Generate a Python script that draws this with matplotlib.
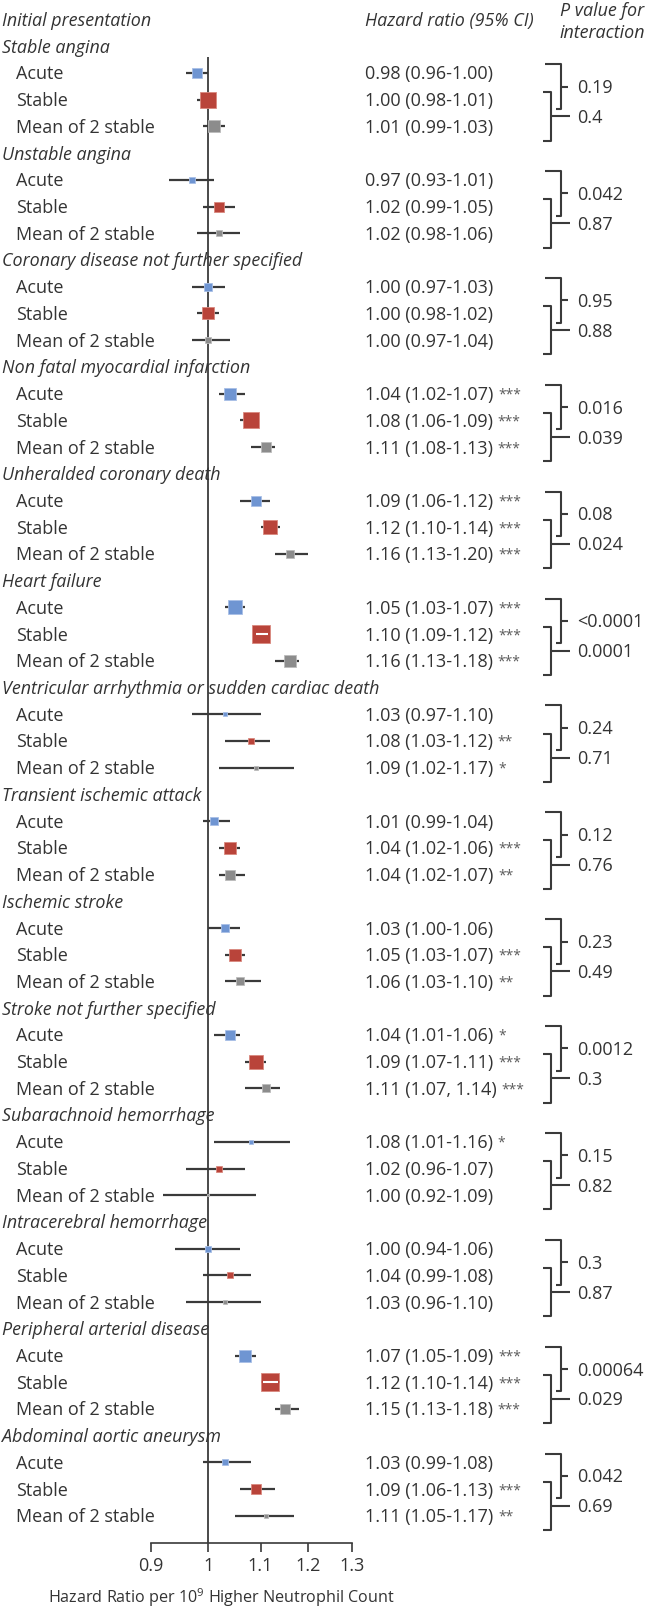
import numpy as np
import matplotlib
matplotlib.use('Agg')
import matplotlib.pyplot as plt
from matplotlib import transforms
from matplotlib.ticker import FixedLocator, FixedFormatter, NullLocator

plt.rcParams['font.family'] = ['Open Sans', 'DejaVu Sans']
plt.rcParams['mathtext.fontset'] = 'custom'
plt.rcParams['mathtext.rm'] = 'Open Sans'
plt.rcParams['mathtext.it'] = 'Open Sans:italic'

# ---------------- data ----------------
outcomes = ['Stable angina', 'Unstable angina', 'Coronary disease not further specified',
            'Non fatal myocardial infarction', 'Unheralded coronary death', 'Heart failure',
            'Ventricular arrhythmia or sudden cardiac death', 'Transient ischemic attack',
            'Ischemic stroke', 'Stroke not further specified', 'Subarachnoid hemorrhage',
            'Intracerebral hemorrhage', 'Peripheral arterial disease', 'Abdominal aortic aneurysm']
subgroups = ['Acute', 'Stable', 'Mean of 2 stable']

hr = [[0.98, 1.00, 1.01], [0.97, 1.02, 1.02], [1.00, 1.00, 1.00], [1.04, 1.08, 1.11],
      [1.09, 1.12, 1.16], [1.05, 1.10, 1.16], [1.03, 1.08, 1.09], [1.01, 1.04, 1.04],
      [1.03, 1.05, 1.06], [1.04, 1.09, 1.11], [1.08, 1.02, 1.00], [1.00, 1.04, 1.03],
      [1.07, 1.12, 1.15], [1.03, 1.09, 1.11]]
ci_low = [[0.96, 0.98, 0.99], [0.93, 0.99, 0.98], [0.97, 0.98, 0.97], [1.02, 1.06, 1.08],
          [1.06, 1.10, 1.13], [1.03, 1.09, 1.13], [0.97, 1.03, 1.02], [0.99, 1.02, 1.02],
          [1.00, 1.03, 1.03], [1.01, 1.07, 1.07], [1.01, 0.96, 0.92], [0.94, 0.99, 0.96],
          [1.05, 1.10, 1.13], [0.99, 1.06, 1.05]]
ci_high = [[1.00, 1.01, 1.03], [1.01, 1.05, 1.06], [1.03, 1.02, 1.04], [1.07, 1.09, 1.13],
           [1.12, 1.14, 1.20], [1.07, 1.12, 1.18], [1.10, 1.12, 1.17], [1.04, 1.06, 1.07],
           [1.06, 1.07, 1.10], [1.06, 1.11, 1.14], [1.16, 1.07, 1.09], [1.06, 1.08, 1.10],
           [1.09, 1.14, 1.18], [1.08, 1.13, 1.17]]
ci_sep = [['-', '-', '-']] * 9 + [['-', '-', ', ']] + [['-', '-', '-']] * 4
stars = [['', '', ''], ['', '', ''], ['', '', ''], ['***', '***', '***'],
         ['***', '***', '***'], ['***', '***', '***'], ['', '**', '*'], ['', '***', '**'],
         ['', '***', '**'], ['*', '***', '***'], ['*', '', ''], ['', '', ''],
         ['***', '***', '***'], ['', '***', '**']]
# relative weight of each estimate (drives box size)
weights = [[11.3, 17.3, 12.3], [6.7, 10.3, 7.7], [9.0, 12.3, 7.3], [13.3, 17.3, 11.3],
           [11.0, 14.7, 8.3], [14.0, 19.7, 13.3], [5.0, 7.0, 4.0], [9.7, 13.3, 10.3],
           [9.3, 13.3, 8.3], [10.7, 14.3, 8.7], [5.7, 6.0, 3.7], [6.3, 6.7, 4.3],
           [12.0, 18.3, 11.3], [6.0, 10.0, 5.3]]
p_acute_stable = ['0.19', '0.042', '0.95', '0.016', '0.08', '<0.0001', '0.24', '0.12',
                  '0.23', '0.0012', '0.15', '0.3', '0.00064', '0.042']
p_stable_mean = ['0.4', '0.87', '0.88', '0.039', '0.024', '0.0001', '0.71', '0.76',
                 '0.49', '0.3', '0.82', '0.87', '0.029', '0.69']
x_ticks = [0.9, 1.0, 1.1, 1.2, 1.3]
x_tick_labels = ['0.9', '1', '1.1', '1.2', '1.3']

# ---------------- style / layout ----------------
W, H = 654, 1610
FS = 13
FSI = 12.9
TXT = '#333333'
LINE = '#3a3a3a'
box_colors = ['#6f95d2', '#b9443a', '#8c8c8c']
edge_colors = ['#a8bfe6', '#d9897f', '#bcbcbc']
ROW0, ROWH = 46.3, 26.72          # pixel y of first row, pixel row height
PX2PT = 72.0 / 100.0

def row_of(py):
    return (py - ROW0) / ROWH

def fx(px):
    return px / W

fig = plt.figure(figsize=(W / 100, H / 100), dpi=100)
ax = fig.add_axes([150.7 / W, 67 / H, 201.3 / W, 1543 / H])
ax.set_xscale('log')
ax.set_xlim(0.9, 1.3)
ax.set_ylim(row_of(1543), row_of(0))
trans = transforms.blended_transform_factory(fig.transFigure, ax.transData)

def put(xpx, y, s, size=FS, italic=False, **kw):
    # place text so that its cap height is centred on row y
    cap = 0.714 * size / PX2PT / 2.0 / ROWH
    return ax.text(fx(xpx), y + cap, s, transform=trans, fontsize=size,
                   style='italic' if italic else 'normal', color=TXT,
                   va='baseline', ha='left', **kw)

for s in ['top', 'right', 'left']:
    ax.spines[s].set_visible(False)
ax.spines['bottom'].set_bounds(0.9, 1.3)
ax.spines['bottom'].set_color(LINE)
ax.spines['bottom'].set_linewidth(1.2)
ax.yaxis.set_visible(False)
ax.xaxis.set_major_locator(FixedLocator(x_ticks))
ax.xaxis.set_major_formatter(FixedFormatter(x_tick_labels))
ax.xaxis.set_minor_locator(NullLocator())
ax.tick_params(axis='x', direction='out', length=6.5, width=1.2, color=LINE,
               labelsize=FS, labelcolor=TXT, pad=3.5)
ax.patch.set_alpha(0)

# reference line at HR = 1
ax.vlines(1.0, row_of(57), row_of(1543), color=LINE, lw=1.3, zorder=1)

# headers
put(2, row_of(20), 'Initial presentation', size=FSI, italic=True)
put(365, row_of(20), 'Hazard ratio (95% CI)', size=FSI, italic=True)
put(560, row_of(10), 'P value for', size=FSI, italic=True)
put(560, row_of(32), 'interaction', size=FSI, italic=True)

LN_PX = 201.3 / np.log(1.3 / 0.9)   # pixels per log unit

def bracket(xv, xl_top, xl_bot, xr, y_top, y_bot, label):
    kw = dict(transform=trans, color=LINE, lw=1.5, clip_on=False, solid_capstyle='butt')
    ax.plot([fx(xl_top), fx(xv), fx(xv), fx(xl_bot)], [y_top, y_top, y_bot, y_bot], **kw)
    ym = (y_top + y_bot) / 2
    ax.plot([fx(xv), fx(xr)], [ym, ym], **kw)
    put(577, ym, label)

for g, name in enumerate(outcomes):
    yh = 4 * g
    put(2, yh, name, size=FSI, italic=True)
    for j, sub in enumerate(subgroups):
        y = yh + 1 + j
        put(16, y, sub)
        h, l, u, w = hr[g][j], ci_low[g][j], ci_high[g][j], weights[g][j]
        ax.plot([l, u], [y, y], color=LINE, lw=1.6, solid_capstyle='butt', zorder=2)
        ax.plot([h], [y], marker='s', ms=w * PX2PT - 0.6, mfc=box_colors[j],
                mec=edge_colors[j], mew=0.6, zorder=3, ls='none')
        # CI fully inside the box -> draw it in white over the box
        half = (w / 2) / LN_PX
        tol = 1.2 / LN_PX
        bl, br = h * np.exp(-half), h * np.exp(half)
        if np.log(l) >= np.log(bl) - tol and np.log(u) <= np.log(br) + tol:
            m = 2.0 / LN_PX
            ax.plot([max(l, bl * np.exp(m)), min(u, br * np.exp(-m))], [y, y],
                    color='white', lw=1.5, solid_capstyle='butt', zorder=4)
        t = put(365, y, f'{h:.2f} ({l:.2f}{ci_sep[g][j]}{u:.2f})')
        if stars[g][j]:
            ax.annotate(stars[g][j], xy=(1, 0), xycoords=t, xytext=(3.5, 4.0),
                        textcoords='offset points', fontsize=10, color='#5a5a5a',
                        va='baseline', ha='left')
    ya, ys, ym = yh + 1, yh + 2, yh + 3
    bracket(561, 545, 556, 568, ya - 0.33, ys + 0.34, p_acute_stable[g])
    bracket(551, 543, 543, 570, ys - 0.28, ym + 0.53, p_stable_mean[g])

fig.text(fx(48), 1 - 1598 / H, r'Hazard Ratio per 10$^{9}$ Higher Neutrophil Count',
         fontsize=11.6, color=TXT, ha='left', va='center')

fig.savefig('out.png', dpi=100)
